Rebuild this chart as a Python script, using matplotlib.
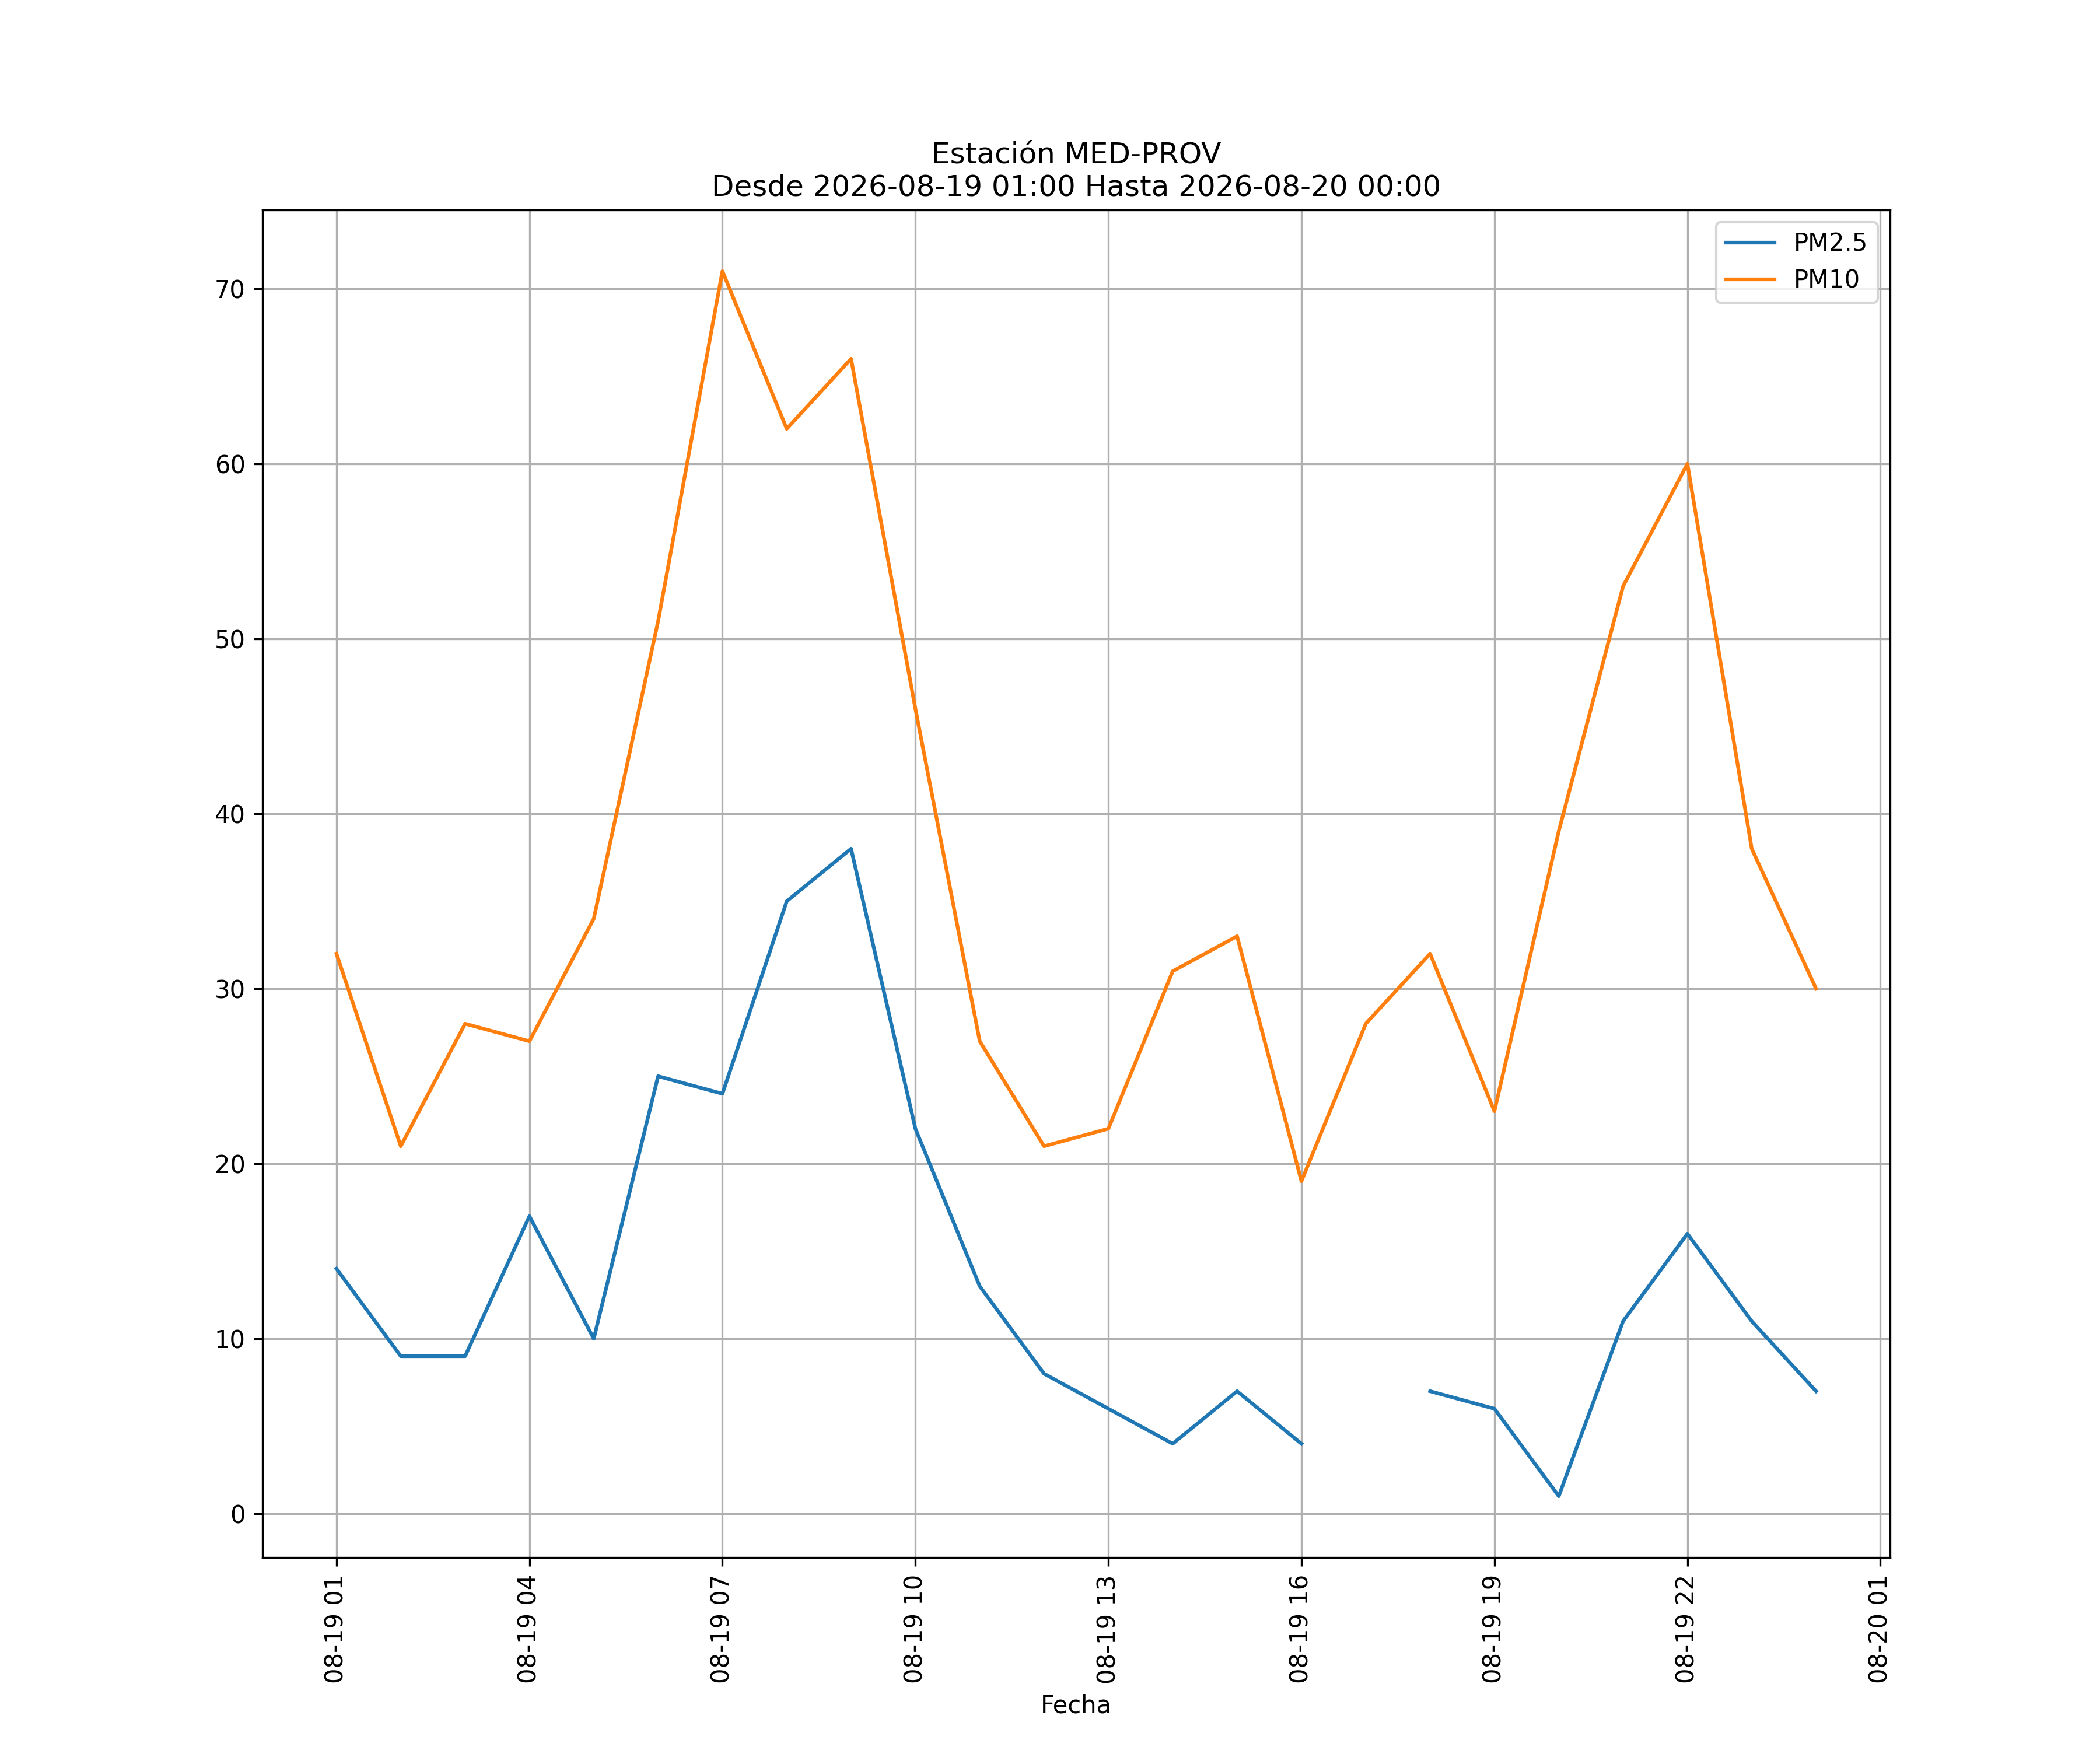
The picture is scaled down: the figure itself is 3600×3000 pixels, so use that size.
import numpy as np
import pandas as pd
import matplotlib
matplotlib.use('Agg')
import matplotlib.pyplot as plt
import matplotlib.dates as mdates

station = 'MED-PROV'
start = '2026-08-19 01:00'
end = '2026-08-20 00:00'

fechas = pd.date_range(start, end, freq='h')
pm25 = [14, 9, 9, 17, 10, 25, 24, 35, 38, 22, 13, 8, 6, 4, 7, 4,
        np.nan, 7, 6, 1, 11, 16, 11, 7]
pm10 = [32, 21, 28, 27, 34, 51, 71, 62, 66, 46, 27, 21, 22, 31, 33, 19,
        28, 32, 23, 39, 53, 60, 38, 30]

fig, ax = plt.subplots(figsize=(12, 10), dpi=300)
ax.plot(fechas, pm25, label='PM2.5')
ax.plot(fechas, pm10, label='PM10')
ax.set_xlim(pd.Timestamp('2026-08-18 23:51'), pd.Timestamp('2026-08-20 01:09'))

ax.xaxis.set_major_locator(mdates.HourLocator(byhour=[1, 4, 7, 10, 13, 16, 19, 22]))
ax.xaxis.set_major_formatter(mdates.DateFormatter('%m-%d %H'))
plt.setp(ax.get_xticklabels(), rotation=90)

ax.grid(True)
ax.legend(loc='upper right')
ax.set_xlabel('Fecha')
ax.set_title('Estación %s\nDesde %s Hasta %s' % (station, start, end))

plt.savefig('out.png')
